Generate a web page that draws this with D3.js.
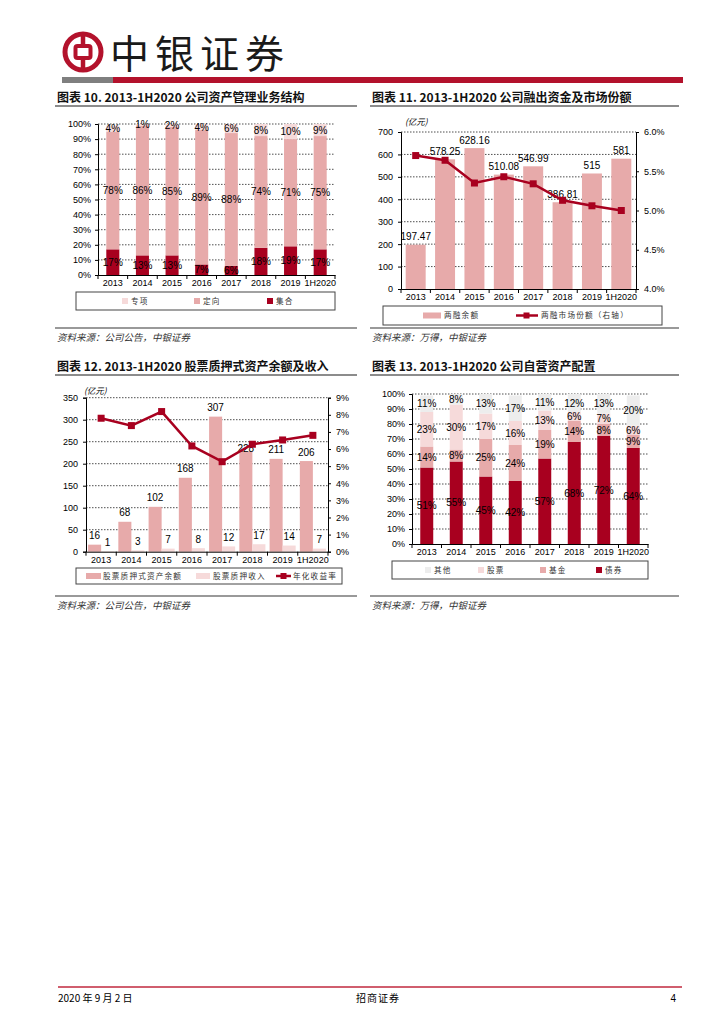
<!DOCTYPE html>
<html>
<head>
<meta charset="utf-8">
<script src="https://cdn.jsdelivr.net/npm/d3@7"></script>
<style>
  body { margin: 0; background: #fff; }
  text { font-family: "Liberation Sans", Arial, sans-serif; }
  .cjk { font-family: "Noto Sans CJK SC", sans-serif; }
  .axis path, .axis line { stroke: #000; }
  .axis text { font-size: 9px; fill: #000; font-family: "Liberation Sans", Arial, sans-serif; }
</style>
</head>
<body>
<div id="page"></div>
<script>
var years = ["2013", "2014", "2015", "2016", "2017", "2018", "2019", "1H2020"];

// 图表10 资管业务结构 (%)
var amJihe = [17, 13, 13, 7, 6, 18, 19, 17];
var amDingxiang = [78, 86, 85, 89, 88, 74, 71, 75];
var amZhuanxiang = [4, 1, 2, 4, 6, 8, 10, 9];
var amNames = ["专项", "定向", "集合"];

// 图表11 两融余额 (亿元) 和市场份额 (%)
var marginBalance = [197.47, 578.25, 628.16, 510.08, 546.99, 386.81, 515, 581];
var marginShare = [5.70, 5.64, 5.35, 5.43, 5.34, 5.13, 5.06, 5.00];
var marginNames = ["两融余额", "两融市场份额（右轴）"];

// 图表12 股票质押 (亿元) 和年化收益率 (%)
var pledgeBalance = [16, 68, 102, 168, 307, 228, 211, 206];
var pledgeIncome = [1, 3, 7, 8, 12, 17, 14, 7];
var pledgeYield = [7.80, 7.37, 8.19, 6.18, 5.26, 6.28, 6.53, 6.80];
var pledgeNames = ["股票质押式资产余额", "股票质押收入", "年化收益率"];

// 图表13 自营资产配置 (%)
var propBond = [51, 55, 45, 42, 57, 68, 72, 64];
var propFund = [14, 8, 25, 24, 19, 14, 8, 9];
var propStock = [23, 30, 17, 16, 13, 6, 7, 6];
var propOther = [11, 8, 13, 17, 11, 12, 13, 20];
var propNames = ["其他", "股票", "基金", "债券"];

var darkRed = "#A8001F";
var pink = "#E7AAAA";
var lightPink = "#F6DADA";
var grey = "#EDEDED";

var svg = d3.select("#page")
  .append("svg")
  .attr("width", 724)
  .attr("height", 1024);

svg.append("rect").attr("width", 724).attr("height", 1024).attr("fill", "#fff");

// ---------- header ----------
var logo = svg.append("g").attr("transform", "translate(83, 52)");
logo.append("circle").attr("r", 18).attr("fill", "none").attr("stroke", "#B3122C").attr("stroke-width", 5);
logo.append("line").attr("x1", 0).attr("x2", 0).attr("y1", -20).attr("y2", 20)
  .attr("stroke", "#B3122C").attr("stroke-width", 4.5);
logo.append("rect").attr("x", -7.5).attr("y", -6).attr("width", 15).attr("height", 12).attr("rx", 2)
  .attr("fill", "#fff").attr("stroke", "#B3122C").attr("stroke-width", 4);

svg.append("text")
  .attr("class", "cjk")
  .attr("x", 110)
  .attr("y", 68)
  .style("font-size", "39px")
  .style("letter-spacing", "6px")
  .attr("fill", "#1a1a1a")
  .text("中银证券");

svg.append("rect").attr("x", 62).attr("y", 77).attr("width", 51).attr("height", 6).attr("fill", "#7F7F7F");
svg.append("rect").attr("x", 113).attr("y", 77).attr("width", 570).attr("height", 6).attr("fill", "#B3122C");

// ---------- titles, rules, sources ----------
function title(x, y, w, str) {
  svg.append("text")
    .attr("class", "cjk")
    .attr("x", x)
    .attr("y", y)
    .attr("dy", "0.35em")
    .style("font-size", "12px")
    .style("font-weight", "bold")
    .attr("fill", "#111")
    .text(str);
  svg.append("line")
    .attr("x1", x - 2).attr("x2", x - 2 + w)
    .attr("y1", y + 8).attr("y2", y + 8)
    .attr("stroke", "#666").attr("stroke-width", 1.5);
}

function source(x, y, w, str) {
  svg.append("line")
    .attr("x1", x - 2).attr("x2", x - 2 + w)
    .attr("y1", y).attr("y2", y)
    .attr("stroke", "#999").attr("stroke-width", 2);
  svg.append("text")
    .attr("class", "cjk")
    .attr("x", x)
    .attr("y", y + 10)
    .attr("dy", "0.35em")
    .style("font-size", "9.5px")
    .style("font-style", "italic")
    .attr("fill", "#333")
    .text(str);
}

title(57, 98, 302, "图表 10. 2013-1H2020 公司资产管理业务结构");
title(372, 98, 309, "图表 11. 2013-1H2020 公司融出资金及市场份额");
title(57, 367, 302, "图表 12. 2013-1H2020 股票质押式资产余额及收入");
title(372, 367, 309, "图表 13. 2013-1H2020 公司自营资产配置");

source(57, 328, 302, "资料来源：公司公告，中银证券");
source(372, 328, 309, "资料来源：万得，中银证券");
source(57, 596, 302, "资料来源：公司公告，中银证券");
source(372, 596, 309, "资料来源：万得，中银证券");

// ---------- helpers ----------
function grid(g, scale, values, x0, x1) {
  g.append("g").selectAll("line")
    .data(values)
    .enter()
    .append("line")
    .attr("x1", x0).attr("x2", x1)
    .attr("y1", d => scale(d)).attr("y2", d => scale(d))
    .attr("stroke", "#222")
    .attr("stroke-width", 0.8)
    .attr("stroke-dasharray", "1.5,1.5");
}

function xAxis(g, band, y) {
  var ax = g.append("g")
    .attr("class", "axis")
    .attr("transform", `translate(0, ${y})`)
    .call(d3.axisBottom(band).tickSize(0).tickPadding(5));
  // category separators
  var edges = band.domain().map(d => band(d)).concat([band.range()[1]]);
  ax.selectAll(".sep")
    .data(edges)
    .enter()
    .append("line")
    .attr("class", "sep")
    .attr("x1", d => d).attr("x2", d => d)
    .attr("y1", 0).attr("y2", 4)
    .attr("stroke", "#000");
}

function legendBox(x, y, w, h) {
  svg.append("rect")
    .attr("x", x).attr("y", y).attr("width", w).attr("height", h)
    .attr("fill", "#fff").attr("stroke", "#444").attr("stroke-width", 1);
}

function legendText(x, y, str) {
  svg.append("text")
    .attr("class", "cjk")
    .attr("x", x)
    .attr("y", y)
    .attr("dy", "0.35em")
    .style("font-size", "7.6px")
    .style("letter-spacing", "1.2px")
    .attr("fill", "#333")
    .text(str);
}

function stackedPercent(g, band, y, series, colors, ratio) {
  var rows = years.map(function(yr, i) {
    var r = { year: yr };
    series.forEach(function(s, k) { r["s" + k] = s[i]; });
    return r;
  });
  var keys = series.map((s, k) => "s" + k);
  var stacked = d3.stack().keys(keys)(rows);
  var bw = band.bandwidth() * ratio;

  var layers = g.selectAll(".layer")
    .data(stacked)
    .enter()
    .append("g")
    .attr("fill", (d, k) => colors[k]);

  layers.selectAll("rect")
    .data(d => d)
    .enter()
    .append("rect")
    .attr("x", d => band(d.data.year) + (band.bandwidth() - bw) / 2)
    .attr("width", bw)
    .attr("y", d => y(Math.min(d[1], 100)))
    .attr("height", d => y(d[0]) - y(Math.min(d[1], 100)));

  stacked.forEach(function(layer) {
    g.append("g").selectAll("text")
      .data(layer)
      .enter()
      .append("text")
      .attr("x", d => band(d.data.year) + band.bandwidth() / 2)
      .attr("y", d => y((d[0] + Math.min(d[1], 100)) / 2))
      .attr("dy", "0.35em")
      .attr("text-anchor", "middle")
      .style("font-size", "10px")
      .attr("fill", "#000")
      .text(d => (d[1] - d[0]) + "%");
  });
}

// ---------- chart 10 ----------
(function() {
  var g = svg.append("g");
  var x = d3.scaleBand().domain(years).range([98, 335]);
  var y = d3.scaleLinear().domain([0, 100]).range([275, 124]);

  grid(g, y, d3.range(10, 101, 10), 98, 335);
  stackedPercent(g, x, y, [amJihe, amDingxiang, amZhuanxiang], [darkRed, pink, lightPink], 0.44);

  g.append("g")
    .attr("class", "axis")
    .attr("transform", "translate(98, 0)")
    .call(d3.axisLeft(y).tickValues(d3.range(0, 101, 10)).tickFormat(d => d + "%").tickSize(3).tickPadding(4));
  xAxis(g, x, 275);

  legendBox(76, 292, 259, 18);
  var cols = [lightPink, pink, darkRed];
  var xs = [122, 194, 267];
  amNames.forEach(function(n, i) {
    svg.append("rect").attr("x", xs[i]).attr("y", 298).attr("width", 6).attr("height", 6).attr("fill", cols[i]);
    legendText(xs[i] + 9, 301, n);
  });
})();

// ---------- chart 11 ----------
(function() {
  var g = svg.append("g");
  var x = d3.scaleBand().domain(years).range([401, 636]);
  var yL = d3.scaleLinear().domain([0, 700]).range([289, 132]);
  var yR = d3.scaleLinear().domain([4, 6]).range([289, 132]);
  var bw = x.bandwidth() * 0.68;
  var cx = d => x(d) + x.bandwidth() / 2;

  grid(g, yL, d3.range(100, 701, 100), 401, 636);

  g.selectAll(".bar")
    .data(marginBalance)
    .enter()
    .append("rect")
    .attr("x", (d, i) => cx(years[i]) - bw / 2)
    .attr("width", bw)
    .attr("y", d => yL(d))
    .attr("height", d => yL(0) - yL(d))
    .attr("fill", pink);

  g.selectAll(".lbl")
    .data(marginBalance)
    .enter()
    .append("text")
    .attr("x", (d, i) => cx(years[i]))
    .attr("y", d => yL(d) - 8)
    .attr("dy", "0.35em")
    .attr("text-anchor", "middle")
    .style("font-size", "10px")
    .attr("fill", "#000")
    .text(d => String(d));

  var line = d3.line()
    .x((d, i) => cx(years[i]))
    .y(d => yR(d));
  g.append("path")
    .datum(marginShare)
    .attr("d", line)
    .attr("fill", "none")
    .attr("stroke", darkRed)
    .attr("stroke-width", 2.5);
  g.selectAll(".mk")
    .data(marginShare)
    .enter()
    .append("rect")
    .attr("x", (d, i) => cx(years[i]) - 3.5)
    .attr("y", d => yR(d) - 3.5)
    .attr("width", 7).attr("height", 7)
    .attr("fill", darkRed);

  g.append("g")
    .attr("class", "axis")
    .attr("transform", "translate(401, 0)")
    .call(d3.axisLeft(yL).tickValues(d3.range(0, 701, 100)).tickSize(3).tickPadding(5));
  g.append("g")
    .attr("class", "axis")
    .attr("transform", "translate(636, 0)")
    .call(d3.axisRight(yR).tickValues([4, 4.5, 5, 5.5, 6]).tickFormat(d => d.toFixed(1) + "%").tickSize(3).tickPadding(5));
  xAxis(g, x, 289);

  svg.append("text")
    .attr("class", "cjk")
    .attr("x", 405).attr("y", 122)
    .attr("dy", "0.35em")
    .style("font-size", "8.5px")
    .style("font-style", "italic")
    .text("(亿元)");

  legendBox(383, 306, 279, 19);
  svg.append("rect").attr("x", 423).attr("y", 312.5).attr("width", 18).attr("height", 6).attr("fill", pink);
  legendText(444, 315.5, marginNames[0]);
  svg.append("line").attr("x1", 516).attr("x2", 538).attr("y1", 315.5).attr("y2", 315.5)
    .attr("stroke", darkRed).attr("stroke-width", 2.5);
  svg.append("rect").attr("x", 523.5).attr("y", 312.5).attr("width", 6).attr("height", 6).attr("fill", darkRed);
  legendText(541, 315.5, marginNames[1]);
})();

// ---------- chart 12 ----------
(function() {
  var g = svg.append("g");
  var x = d3.scaleBand().domain(years).range([86, 328]);
  var sub = d3.scaleBand().domain(["bal", "inc"]).range([0, x.bandwidth()]).paddingOuter(0.16);
  var yL = d3.scaleLinear().domain([0, 350]).range([551.7, 397.7]);
  var yR = d3.scaleLinear().domain([0, 9]).range([551.7, 397.7]);
  var cx = d => x(d) + x.bandwidth() / 2;

  grid(g, yL, d3.range(50, 351, 50), 86, 328);

  g.selectAll(".bal")
    .data(pledgeBalance)
    .enter()
    .append("rect")
    .attr("x", (d, i) => x(years[i]) + sub("bal"))
    .attr("width", sub.bandwidth())
    .attr("y", d => yL(d))
    .attr("height", d => yL(0) - yL(d))
    .attr("fill", pink);
  g.selectAll(".inc")
    .data(pledgeIncome)
    .enter()
    .append("rect")
    .attr("x", (d, i) => x(years[i]) + sub("inc"))
    .attr("width", sub.bandwidth())
    .attr("y", d => yL(d))
    .attr("height", d => yL(0) - yL(d))
    .attr("fill", lightPink);

  // the 2018 label sits lower in the source, under the line marker
  g.selectAll(".lb")
    .data(pledgeBalance)
    .enter()
    .append("text")
    .attr("x", (d, i) => x(years[i]) + sub("bal") + sub.bandwidth() / 2)
    .attr("y", (d, i) => i === 5 ? yL(d) - 3 : yL(d) - 9)
    .attr("dy", "0.35em")
    .attr("text-anchor", "middle")
    .style("font-size", "10px")
    .text(d => d);
  g.selectAll(".li")
    .data(pledgeIncome)
    .enter()
    .append("text")
    .attr("x", (d, i) => x(years[i]) + sub("inc") + sub.bandwidth() / 2)
    .attr("y", d => yL(d) - 9)
    .attr("dy", "0.35em")
    .attr("text-anchor", "middle")
    .style("font-size", "10px")
    .text(d => d);

  var line = d3.line()
    .x((d, i) => cx(years[i]))
    .y(d => yR(d));
  g.append("path")
    .datum(pledgeYield)
    .attr("d", line)
    .attr("fill", "none")
    .attr("stroke", darkRed)
    .attr("stroke-width", 2.5);
  g.selectAll(".mk")
    .data(pledgeYield)
    .enter()
    .append("rect")
    .attr("x", (d, i) => cx(years[i]) - 3.5)
    .attr("y", d => yR(d) - 3.5)
    .attr("width", 7).attr("height", 7)
    .attr("fill", darkRed);

  g.append("g")
    .attr("class", "axis")
    .attr("transform", "translate(86, 0)")
    .call(d3.axisLeft(yL).tickValues(d3.range(0, 351, 50)).tickSize(3).tickPadding(5));
  g.append("g")
    .attr("class", "axis")
    .attr("transform", "translate(328, 0)")
    .call(d3.axisRight(yR).tickValues(d3.range(0, 10, 1)).tickFormat(d => d + "%").tickSize(3).tickPadding(5));
  xAxis(g, x, 551.7);

  svg.append("text")
    .attr("class", "cjk")
    .attr("x", 84).attr("y", 391)
    .attr("dy", "0.35em")
    .style("font-size", "8.5px")
    .style("font-style", "italic")
    .text("(亿元)");

  legendBox(76, 568, 266, 16);
  svg.append("rect").attr("x", 86).attr("y", 573).attr("width", 15).attr("height", 6).attr("fill", pink);
  legendText(103, 576, pledgeNames[0]);
  svg.append("rect").attr("x", 196).attr("y", 573).attr("width", 14).attr("height", 6).attr("fill", lightPink);
  legendText(213, 576, pledgeNames[1]);
  svg.append("line").attr("x1", 276).attr("x2", 291).attr("y1", 576).attr("y2", 576)
    .attr("stroke", darkRed).attr("stroke-width", 2.5);
  svg.append("rect").attr("x", 280.5).attr("y", 573).attr("width", 6).attr("height", 6).attr("fill", darkRed);
  legendText(293, 576, pledgeNames[2]);
})();

// ---------- chart 13 ----------
(function() {
  var g = svg.append("g");
  var x = d3.scaleBand().domain(years).range([412, 648]);
  var y = d3.scaleLinear().domain([0, 100]).range([544, 394]);

  grid(g, y, d3.range(10, 101, 10), 412, 648);
  stackedPercent(g, x, y, [propBond, propFund, propStock, propOther], [darkRed, pink, lightPink, grey], 0.44);

  g.append("g")
    .attr("class", "axis")
    .attr("transform", "translate(412, 0)")
    .call(d3.axisLeft(y).tickValues(d3.range(0, 101, 10)).tickFormat(d => d + "%").tickSize(3).tickPadding(4));
  xAxis(g, x, 544);

  legendBox(392, 561, 256, 18);
  var cols = [grey, lightPink, pink, darkRed];
  var xs = [425, 478, 540, 596];
  propNames.forEach(function(n, i) {
    svg.append("rect").attr("x", xs[i]).attr("y", 567).attr("width", 6).attr("height", 6).attr("fill", cols[i]);
    legendText(xs[i] + 9, 570, n);
  });
})();

// ---------- footer ----------
svg.append("line")
  .attr("x1", 58).attr("x2", 682)
  .attr("y1", 987).attr("y2", 987)
  .attr("stroke", "#C0283E").attr("stroke-width", 1.5);
svg.append("text")
  .attr("class", "cjk")
  .attr("x", 58).attr("y", 998)
  .attr("dy", "0.35em")
  .style("font-size", "10px")
  .text("2020 年 9 月 2 日");
svg.append("text")
  .attr("class", "cjk")
  .attr("x", 378).attr("y", 998)
  .attr("dy", "0.35em")
  .attr("text-anchor", "middle")
  .style("font-size", "10px")
  .style("letter-spacing", "1px")
  .text("招商证券");
svg.append("text")
  .attr("x", 676).attr("y", 998)
  .attr("dy", "0.35em")
  .attr("text-anchor", "end")
  .style("font-size", "10px")
  .text("4");
</script>
</body>
</html>
